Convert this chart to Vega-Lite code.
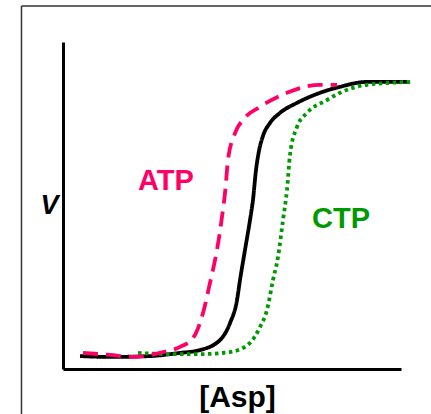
{
  "$schema": "https://vega.github.io/schema/vega-lite/v6.json",
  "autosize": {"type": "none"},
  "padding": {"left": 63, "top": 42, "right": 30, "bottom": 45},
  "width": 338,
  "height": 327,
  "background": "white",
  "config": {"view": {"stroke": null}, "font": "Liberation Sans"},
  "layer": [
    {
      "data": {"values": [
        {"series": "control", "asp": 0.503, "v": 0.045},
        {"series": "control", "asp": 1.391, "v": 0.042},
        {"series": "control", "asp": 2.574, "v": 0.045},
        {"series": "control", "asp": 3.462, "v": 0.056},
        {"series": "control", "asp": 4.053, "v": 0.066},
        {"series": "control", "asp": 4.645, "v": 0.101},
        {"series": "control", "asp": 4.941, "v": 0.160},
        {"series": "control", "asp": 5.148, "v": 0.240},
        {"series": "control", "asp": 5.237, "v": 0.310},
        {"series": "control", "asp": 5.385, "v": 0.415},
        {"series": "control", "asp": 5.533, "v": 0.519},
        {"series": "control", "asp": 5.621, "v": 0.589},
        {"series": "control", "asp": 5.710, "v": 0.693},
        {"series": "control", "asp": 5.799, "v": 0.760},
        {"series": "control", "asp": 5.917, "v": 0.812},
        {"series": "control", "asp": 6.124, "v": 0.857},
        {"series": "control", "asp": 6.420, "v": 0.892},
        {"series": "control", "asp": 6.923, "v": 0.927},
        {"series": "control", "asp": 7.604, "v": 0.962},
        {"series": "control", "asp": 8.195, "v": 0.983},
        {"series": "control", "asp": 8.994, "v": 1.0},
        {"series": "control", "asp": 10.178, "v": 1.0},
        {"series": "CTP", "asp": 2.219, "v": 0.056},
        {"series": "CTP", "asp": 3.166, "v": 0.052},
        {"series": "CTP", "asp": 4.053, "v": 0.052},
        {"series": "CTP", "asp": 4.941, "v": 0.059},
        {"series": "CTP", "asp": 5.533, "v": 0.091},
        {"series": "CTP", "asp": 5.828, "v": 0.146},
        {"series": "CTP", "asp": 6.036, "v": 0.206},
        {"series": "CTP", "asp": 6.213, "v": 0.310},
        {"series": "CTP", "asp": 6.361, "v": 0.390},
        {"series": "CTP", "asp": 6.509, "v": 0.519},
        {"series": "CTP", "asp": 6.627, "v": 0.624},
        {"series": "CTP", "asp": 6.716, "v": 0.746},
        {"series": "CTP", "asp": 6.923, "v": 0.843},
        {"series": "CTP", "asp": 7.219, "v": 0.892},
        {"series": "CTP", "asp": 7.811, "v": 0.937},
        {"series": "CTP", "asp": 8.195, "v": 0.962},
        {"series": "CTP", "asp": 8.994, "v": 0.990},
        {"series": "CTP", "asp": 10.355, "v": 1.0},
        {"series": "ATP", "asp": 0.592, "v": 0.056},
        {"series": "ATP", "asp": 1.391, "v": 0.049},
        {"series": "ATP", "asp": 2.071, "v": 0.042},
        {"series": "ATP", "asp": 2.959, "v": 0.059},
        {"series": "ATP", "asp": 3.462, "v": 0.077},
        {"series": "ATP", "asp": 3.846, "v": 0.108},
        {"series": "ATP", "asp": 4.142, "v": 0.195},
        {"series": "ATP", "asp": 4.349, "v": 0.300},
        {"series": "ATP", "asp": 4.556, "v": 0.415},
        {"series": "ATP", "asp": 4.704, "v": 0.530},
        {"series": "ATP", "asp": 4.793, "v": 0.613},
        {"series": "ATP", "asp": 4.882, "v": 0.728},
        {"series": "ATP", "asp": 5.089, "v": 0.822},
        {"series": "ATP", "asp": 5.325, "v": 0.868},
        {"series": "ATP", "asp": 5.828, "v": 0.913},
        {"series": "ATP", "asp": 6.627, "v": 0.962},
        {"series": "ATP", "asp": 7.604, "v": 0.990},
        {"series": "ATP", "asp": 8.107, "v": 0.990}
      ]},
      "mark": {"type": "line", "interpolate": "monotone", "strokeWidth": 3.8, "strokeCap": "butt"},
      "encoding": {
        "x": {"field": "asp", "type": "quantitative",
          "scale": {"domain": [0, 10], "nice": false, "zero": false},
          "axis": {"title": "[Asp]", "grid": false, "ticks": false, "labels": false,
            "domainColor": "black", "domainWidth": 3,
            "titleFont": "Liberation Sans", "titleFontSize": 30, "titleFontWeight": "bold", "titleColor": "black",
            "titleBaseline": "alphabetic", "titlePadding": 37, "titleX": 174}},
        "y": {"field": "v", "type": "quantitative",
          "scale": {"domain": [0, 1.139], "nice": false, "zero": false},
          "axis": {"title": "V", "grid": false, "ticks": false, "labels": false,
            "domainColor": "black", "domainWidth": 3,
            "titleFont": "Liberation Sans", "titleFontSize": 27, "titleFontWeight": "bold", "titleFontStyle": "italic",
            "titleColor": "black", "titleAngle": 0, "titleAlign": "right", "titleBaseline": "middle", "titlePadding": 5}},
        "color": {"field": "series", "type": "nominal",
          "scale": {"domain": ["control", "ATP", "CTP"], "range": ["#000000", "#FF0066", "#009900"]}, "legend": null},
        "strokeDash": {"field": "series", "type": "nominal",
          "scale": {"domain": ["control", "ATP", "CTP"], "range": [[1, 0], [15, 8], [3.5, 3.5]]}, "legend": null},
        "order": {"field": "asp", "type": "quantitative"}
      }
    },
    {
      "data": {"values": [
        {"series": "ATP", "asp": 3.047, "v": 0.655},
        {"series": "CTP", "asp": 8.225, "v": 0.523}
      ]},
      "mark": {"type": "text", "fontSize": 29, "fontWeight": "bold", "font": "Liberation Sans", "align": "center", "baseline": "middle"},
      "encoding": {
        "x": {"field": "asp", "type": "quantitative"},
        "y": {"field": "v", "type": "quantitative"},
        "text": {"field": "series"},
        "color": {"field": "series", "type": "nominal", "legend": null}
      }
    },
    {
      "data": {"values": [
        {"asp": -1.228, "v": -0.2, "asp2": -1.228, "v2": 1.2648},
        {"asp": -1.228, "v": 1.2648, "asp2": 11.5, "v2": 1.2648}
      ]},
      "mark": {"type": "rule", "color": "#333333", "strokeWidth": 1.5},
      "encoding": {
        "x": {"field": "asp", "type": "quantitative"},
        "x2": {"field": "asp2"},
        "y": {"field": "v", "type": "quantitative"},
        "y2": {"field": "v2"}
      }
    }
  ]
}
